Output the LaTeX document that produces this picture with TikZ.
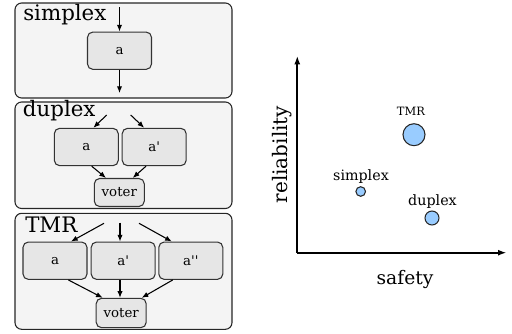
\documentclass[tikz,border=0pt]{standalone}
\usepackage{fontspec}
\setmainfont{DejaVu Serif}
\usetikzlibrary{arrows.meta,calc}

\definecolor{panelfill}{RGB}{244,244,244}
\definecolor{unitfill}{RGB}{230,230,230}
\definecolor{dotfill}{RGB}{153,204,255}

\tikzset{
  panel/.style={draw=black!85, fill=panelfill, rounded corners=5pt, line width=0.8pt},
  panellabel/.style={anchor=base west, inner sep=0pt, font=\fontsize{16}{18}\selectfont},
  unitbox/.style={draw=black!80, fill=unitfill, rounded corners=4pt, line width=0.8pt,
    minimum width=48pt, minimum height=28pt, inner sep=0pt, font=\fontsize{10}{12}\selectfont},
  voterbox/.style={unitbox, minimum width=37.5pt, minimum height=21pt},
  flow/.style={-{Latex[length=5pt,width=4pt]}, line width=0.8pt},
  axis/.style={-{Latex[length=6.5pt,width=4.5pt]}, line width=1.5pt},
  dot/.style={circle, draw=black!85, fill=dotfill, line width=0.8pt, inner sep=0pt},
  dotlabel/.style={anchor=base, inner sep=0pt, font=\fontsize{10.7}{12}\selectfont},
}

\begin{document}
\begin{tikzpicture}[x=0.75pt, y=-0.75pt]
  \useasboundingbox (0,0) rectangle (512,333);

  % Drawing panel simplex
  \draw [panel] (15,3) rectangle (232,98);
  \node [panellabel] at (23,20.7) {simplex};
  \node [unitbox] (sa) at (119.5,50.7) {a};
  \coordinate (sin) at (119.5,7);
  \coordinate (sout) at (119.5,93);
  \draw [flow] (sin) -- (sa.north);
  \draw [flow] (sa.south) -- (sout);

  % Drawing panel duplex
  \draw [panel] (15,102) rectangle (232,208.5);
  \node [panellabel] at (22.7,116.7) {duplex};
  \node [unitbox] (da) at (86.3,147) {a};
  \node [unitbox] (dap) at (154.2,147) {a\textquotesingle};
  \node [voterbox] (dv) at (119.3,192.5) {voter};
  \coordinate (dinl) at (106.7,115);
  \coordinate (dinr) at (130.7,115);
  \draw [flow] (dinl) -- ($(da.north)+(7,0)$);
  \draw [flow] (dinr) -- ($(dap.north)+(-10,0)$);
  \draw [flow] ($(da.south)+(5.4,0)$) -- ($(dv.north)+(-13.3,0)$);
  \draw [flow] ($(dap.south)+(-8.2,0)$) -- ($(dv.north)+(13.4,0)$);

  % Drawing panel TMR
  \draw [panel] (15,213.3) rectangle (232,329.3);
  \node [panellabel] at (25,232.3) {TMR};
  \node [unitbox] (ta) at (55,260.7) {a};
  \node [unitbox] (tap) at (123.2,260.7) {a\textquotesingle};
  \node [unitbox] (tapp) at (190.8,260.7) {a\textquotesingle\textquotesingle};
  \node [voterbox, minimum height=22pt] (tv) at (121.2,313) {voter};
  \coordinate (tinl) at (104,223.3);
  \coordinate (tin) at (120,222.7);
  \coordinate (tinr) at (139,223.3);
  \draw [flow] (tinl) -- ($(ta.north)+(16,0)$);
  \draw [flow] (tin) -- (tin |- tap.north);
  \draw [flow] (tinr) -- ($(tapp.north)+(-19,0)$);
  \draw [flow] ($(ta.south)+(13.3,0)$) -- ($(tv.north)+(-18.5,0)$);
  \draw [flow] (tap.south -| tin) -- (tin |- tv.north);
  \draw [flow] ($(tapp.south)+(-18,0)$) -- ($(tv.north)+(20.5,0)$);

  % Drawing axes
  \coordinate (origin) at (297.3,252.7);
  \coordinate (ytip) at (297.3,55.7);
  \coordinate (xtip) at (506.7,252.7);
  \draw [axis] (origin) -- (ytip);
  \draw [axis] (origin) -- (xtip);
  \node [rotate=90, anchor=base, inner sep=0pt, font=\fontsize{15}{17}\selectfont] (rel) at (287,154.5) {reliability};
  \node [anchor=base, inner sep=0pt, font=\fontsize{14}{16}\selectfont] (saf) at (405,284) {safety};

  % Marking points
  \node [dot, minimum size=16.5pt] (ptmr) at (414,134.7) {};
  \node [dot, minimum size=7.2pt] (psimplex) at (360.7,191.5) {};
  \node [dot, minimum size=10.5pt] (pduplex) at (432,218) {};
  \node [dotlabel, font=\fontsize{8.6}{10}\selectfont] at (411,115) {TMR};
  \node [dotlabel] at (361,180) {simplex};
  \node [dotlabel] at (432.5,205) {duplex};
\end{tikzpicture}
\end{document}
